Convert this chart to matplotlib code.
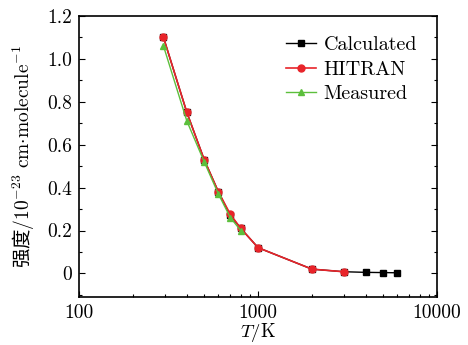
import matplotlib
matplotlib.use("Agg")
import matplotlib.pyplot as plt
from matplotlib.ticker import MultipleLocator, FixedLocator, LogLocator, NullFormatter

plt.rcParams['font.family'] = ['cmr10', 'DejaVu Serif']
plt.rcParams['mathtext.fontset'] = 'cm'
plt.rcParams['axes.unicode_minus'] = False

# ----- line intensity vs temperature -----
calc_T = [296, 400, 500, 600, 700, 800, 1000, 2000, 3000, 4000, 5000, 6000]
calc_S = [1.10, 0.75, 0.53, 0.38, 0.27, 0.21, 0.12, 0.02, 0.008, 0.005, 0.004, 0.003]

hitran_T = [296, 400, 500, 600, 700, 800, 1000, 2000, 3000]
hitran_S = [1.10, 0.75, 0.53, 0.38, 0.275, 0.21, 0.12, 0.02, 0.008]

meas_T = [296, 400, 500, 600, 700, 800]
meas_S = [1.06, 0.71, 0.52, 0.37, 0.26, 0.20]

fig = plt.figure(figsize=(4.68, 3.45), dpi=100)
ax = fig.add_axes([0.169, 0.139, 0.765, 0.815])

ax.plot(calc_T, calc_S, color='black', marker='s', ms=4.5, lw=1.0, label='Calculated')
ax.plot(hitran_T, hitran_S, color='#e8242a', marker='o', ms=5, lw=1.2, label='HITRAN')
ax.plot(meas_T, meas_S, color='#5cbf3c', marker='^', ms=5, lw=1.0, label='Measured')

ax.set_xscale('log')
ax.set_xlim(100, 10000)
ax.set_ylim(-0.11, 1.2)
ax.xaxis.set_major_locator(FixedLocator([100, 1000, 10000]))
ax.set_xticklabels(['100', '1000', '10000'])
ax.xaxis.set_minor_locator(LogLocator(base=10, subs=range(2, 10)))
ax.xaxis.set_minor_formatter(NullFormatter())
ax.yaxis.set_major_locator(FixedLocator([0, 0.2, 0.4, 0.6, 0.8, 1.0, 1.2]))
ax.set_yticklabels(['0', '0.2', '0.4', '0.6', '0.8', '1.0', '1.2'])
ax.yaxis.set_minor_locator(MultipleLocator(0.1))

ax.tick_params(which='both', direction='in', top=False, right=True, labelsize=14)
ax.tick_params(which='major', length=4, width=0.8, pad=5)
ax.tick_params(which='minor', length=2.5, width=0.8)
for s in ax.spines.values():
    s.set_linewidth(1.2)

ax.set_xlabel('$T/\\mathrm{K}$', fontsize=13.5, labelpad=-1)
# Chinese text in a CJK font, the rest through mathtext (cm)
ax.set_ylabel('强度$/10^{-23}\\ \\mathrm{cm{\\cdot}molecule}^{-1}$', fontsize=14,
              family=['Noto Sans CJK SC', 'DejaVu Sans'], labelpad=7)

ax.legend(loc='upper right', frameon=False, fontsize=14.5, handlelength=1.5,
          handletextpad=0.35, labelspacing=0.32, borderaxespad=0.6,
          bbox_to_anchor=(1.0, 1.0))

fig.savefig('out.png', dpi=100)
